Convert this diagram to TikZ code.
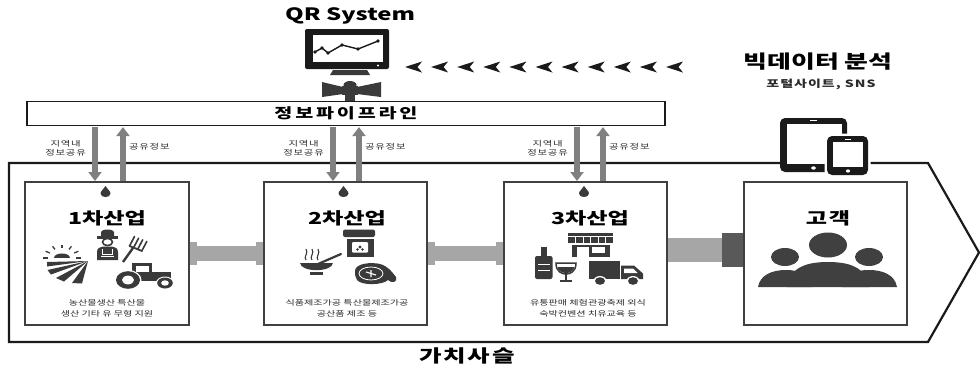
\documentclass[tikz,border=0pt]{standalone}
\usepackage{fontspec}
\usetikzlibrary{arrows.meta,calc}
\newfontfamily\kr[FakeStretch=1.4]{Noto Sans CJK KR}
\newfontfamily\krsm[FakeStretch=1.4,LetterSpace=10]{Noto Sans CJK KR}
\newfontfamily\krmd[FakeStretch=1.4,LetterSpace=20]{Noto Sans CJK KR}
\definecolor{inkc}{HTML}{1A1A1A}
\definecolor{iconc}{HTML}{3A3A3A}
\definecolor{boxc}{HTML}{404040}
\definecolor{flowc}{HTML}{808080}
\definecolor{barc}{HTML}{A6A6A6}
\definecolor{bardark}{HTML}{595959}
\definecolor{txtc}{HTML}{2B2B2B}

\begin{document}
\begin{tikzpicture}[x=1bp,y=-1bp,
  stagebox/.style={draw=boxc, line width=2bp, fill=white, minimum width=163bp,
    minimum height=143bp, inner sep=0pt},
  pipebox/.style={draw=inkc, line width=1.6bp, fill=white, minimum width=638bp,
    minimum height=24bp, inner sep=0pt,
    font=\krmd\bfseries\fontsize{14bp}{16bp}\selectfont},
  heading/.style={font=\kr\bfseries\fontsize{16.5bp}{18bp}\selectfont, text=black, inner sep=0pt},
  desc/.style={font=\kr\fontsize{7.2bp}{10.5bp}\selectfont, align=center, text=txtc, inner sep=0pt},
  flowlabel/.style={font=\krsm\fontsize{7.4bp}{9.5bp}\selectfont, align=center, text=txtc, inner sep=0pt},
  vflow/.style={draw=flowc, line width=6bp, -{Triangle[width=13bp,length=9bp]}},
  linkbar/.style={draw=barc, line width=15bp},
  leftmark/.pic={\fill[inkc] (0,0) -- (17,-5.5) -- (12.5,0) -- (17,5.5) -- cycle;},
  droplet/.pic={\fill[iconc] (0,-6) .. controls (1.5,-3) and (5,-1) .. (5,1.5)
      .. controls (5,4) and (2.5,5) .. (0,5) .. controls (-2.5,5) and (-5,4) .. (-5,1.5)
      .. controls (-5,-1) and (-1.5,-3) .. cycle;}
]
\useasboundingbox (0,0) rectangle (980,372);

% value chain frame
\draw[inkc, line width=2.2bp, line join=miter] (9,163) -- (928,163) -- (979,252.5) -- (928,342) -- (9,342) -- cycle;

% ---------------- QR system monitor ----------------
\node[font=\kr\bfseries\fontsize{17bp}{19bp}\selectfont, inner sep=0pt] (qr) at (350,16) {QR System};
\fill[inkc, rounded corners=2bp] (305,29) rectangle (389,69);
\fill[white] (313,35) rectangle (383,62);
\fill[white] (378,65.5) circle[radius=1.2];
\draw[inkc, line width=1.4bp, line join=round] (315,52) -- (322,48) -- (328,53) -- (342,45) -- (358,49) -- (378,41);
\foreach \p in {(315,52),(322,48),(328,53),(342,45),(358,49),(378,41)}
  \fill[inkc] \p circle[radius=1.8];
\fill[iconc] (333,70) -- (367,70) -- (370,75) -- (330,75) -- cycle;
\fill[iconc] (322,82) -- (343,87) -- (343,94) -- (322,97) -- cycle;
\fill[iconc] (381,82) -- (357,87) -- (357,94) -- (381,97) -- cycle;
\fill[iconc] (342,86) rectangle (358,95);
\fill[iconc] (350,85) ellipse[x radius=6.5, y radius=4];
\fill[iconc] (345,95) rectangle (355,102);

% pipeline
\node[pipebox] (pipe) at (346,113.5) {정보파이프라인};

% data stream from big data
\foreach \i in {0,...,10}
  \pic at ({405+26.1*\i},67) {leftmark};
\node[font=\kr\bfseries\fontsize{18.5bp}{20bp}\selectfont, inner sep=0pt] (bigdata) at (818,62) {빅데이터 분석};
\node[font=\krsm\bfseries\fontsize{10bp}{12bp}\selectfont, text=txtc, inner sep=0pt] (portal) at (821,84) {포털사이트, SNS};

% ---------------- stages ----------------
\node[stagebox] (b1) at (107,253.5) {};
\node[stagebox] (b2) at (345,253.5) {};
\node[stagebox] (b3) at (585.5,253.5) {};
\node[stagebox] (b4) at (825,253.5) {};

% links between stages
\draw[linkbar] (b1.east) -- (b2.west);
\draw[linkbar] (b2.east) -- (b3.west);
\fill[barc] (b1.east) ++(0,-11.5) rectangle ++(7,23);
\fill[barc] (b2.west) ++(-7,-11.5) rectangle ++(7,23);
\fill[barc] (b2.east) ++(0,-11.5) rectangle ++(7,23);
\fill[barc] (b3.west) ++(-7,-11.5) rectangle ++(7,23);
\coordinate (k1) at ($(b4.west)+(-21,-3.5)$);
\draw[barc, line width=24bp] ($(b3.east)+(0,-3.5)$) -- (k1);
\fill[bardark] (k1) ++(0,-17) rectangle ($(b4.west)+(0,13.5)$);

% exchange arrows with the pipeline
\coordinate (d1) at ($(b1.north)+(-12,0)$);
\coordinate (u1) at ($(b1.north)+(16,0)$);
\coordinate (d2) at ($(b2.north)+(-12,0)$);
\coordinate (u2) at ($(b2.north)+(14,0)$);
\coordinate (d3) at ($(b3.north)+(-8.5,0)$);
\coordinate (u3) at ($(b3.north)+(17.5,0)$);
\foreach \d/\u in {d1/u1,d2/u2,d3/u3}{
  \draw[vflow, shorten <=0.8bp] (\d |- pipe.south) -- (\d);
  \draw[vflow, shorten >=0.8bp] (\u) -- (\u |- pipe.south);
  \node[flowlabel, anchor=east] (\d l) at ($(\d |- 0,148)+(-9,0)$) {지역내\\정보공유};
  \node[flowlabel, anchor=west] (\u l) at ($(\u |- 0,147)+(6,0)$) {공유정보};
}

% drops and titles
\foreach \b in {b1,b2,b3}
  \pic at ($(\b.north)+(-1.5,11)$) {droplet};
\node[heading] (t1) at (107,218) {1차산업};
\node[heading] (t2) at (347,218) {2차산업};
\node[heading] (t3) at (590,218) {3차산업};
\node[heading, font=\krsm\bfseries\fontsize{16.5bp}{18bp}\selectfont] (t4) at (828,218) {고객};

% descriptions
\node[desc] (s1) at (107,308.5) {농산물생산 특산물\\생산 기타 유 무형 지원};
\node[desc] (s2) at (347,308.5) {식품제조가공 특산물제조가공\\공산품 제조 등};
\node[desc] (s3) at (588,308.5) {유통판매 체험관광축제 외식\\숙박컨벤션 치유교육 등};

% ---------------- primary industry icons ----------------
% farmer
\fill[iconc] (101,236) -- (101,232.5) .. controls (101,228.5) and (114,228.5) .. (114,232.5) -- (114,236) -- cycle;
\fill[iconc] (97,236) rectangle (118,238.5);
\draw[iconc, line width=1.6bp] (107.5,242) ellipse[x radius=5, y radius=3.6];
\fill[iconc] (97,260) -- (97,252) .. controls (97,248) and (100,247) .. (103,246.5) -- (112,246.5)
  .. controls (115,247) and (118,248) .. (118,252) -- (118,260) -- cycle;
\draw[white, line width=1bp] (102.5,249) -- (102.5,254) -- (112.5,254) -- (112.5,249);
\fill[white] (101,256) rectangle (114,257.2);
% pitchfork
\draw[iconc, line width=2.4bp] (123,262) -- (133,248);
\draw[iconc, line width=1.8bp, line cap=round] (129.5,246) -- (142,251);
\foreach \t in {0,1,2,3}
  \draw[iconc, line width=1.6bp, line cap=round] ({129.5+4.1*\t},{246+1.65*\t}) -- ++(5,-9.5);
% sun and field
\fill[iconc] (54,258) .. controls (54,252) and (70,252) .. (70,258) -- cycle;
\foreach \a in {0,30,60,90,120,150,180}
  \draw[iconc, line width=1.3bp] ({62+1.4*10*cos(\a)},{258-10*sin(\a)}) -- ({62+1.4*13.5*cos(\a)},{258-13.5*sin(\a)});
\fill[iconc] (88,261) -- (47,262) -- (47,266.5) -- cycle;
\fill[iconc] (88,261) -- (47.5,270) -- (51,274.5) -- cycle;
\fill[iconc] (88,261) -- (56,278) -- (64,281.5) -- cycle;
\fill[iconc] (88,261) -- (72,283) -- (82,283.5) -- cycle;
% tractor
\fill[iconc] (132,263) rectangle (152,276);
\fill[white] (136,265.5) rectangle (149,271.5);
\fill[iconc] (150,272) rectangle (171,280);
\fill[iconc] (130,274) rectangle (160,281);
\fill[white] (128,280) ellipse[x radius=13.5, y radius=10];
\fill[iconc] (128,280) ellipse[x radius=12, y radius=8.8];
\fill[white] (128,280) ellipse[x radius=6, y radius=4.4];
\fill[white] (165,283) ellipse[x radius=9, y radius=6.5];
\fill[iconc] (165,283) ellipse[x radius=7.8, y radius=5.5];
\fill[white] (165,283) ellipse[x radius=3.8, y radius=2.7];

% ---------------- secondary industry icons ----------------
% steam, bowl and spoon
\foreach \sx in {306,312,318}
  \draw[iconc, line width=1.1bp] (\sx,260) .. controls (\sx-3,257) and (\sx+3,253) .. (\sx,249);
\fill[iconc] (300,263) .. controls (301,272.5) and (332,272.5) .. (333,263) -- cycle;
\fill[iconc] (310,272) rectangle (323,275);
\draw[iconc, line width=2.2bp, line cap=round] (318,264) -- (341,254);
% jar
\fill[iconc, rounded corners=2bp] (343,229.5) rectangle (375,237);
\fill[iconc] (346.5,238.5) rectangle (373.5,256.5);
\fill[white, rounded corners=1bp] (352,242) rectangle (368,252.5);
\fill[iconc] (360,247) circle[radius=1.6];
\fill[iconc] (357.5,249.5) circle[radius=1.4];
\fill[iconc] (362.5,249.5) circle[radius=1.4];
% steak
\fill[iconc] (355,271) .. controls (355,263) and (372,262) .. (380,264) .. controls (388,266) and (392,272) .. (396,277)
  .. controls (398,282) and (392,284) .. (388,280) .. controls (383,285) and (362,286) .. (357,280)
  .. controls (355,277) and (355,274) .. (355,271) -- cycle;
\draw[white, line width=0.8bp] (371,273.5) ellipse[x radius=12, y radius=6.5];
\draw[white, line width=1.1bp] (366,272) -- (376,275) (371,270) -- (371,277);

% ---------------- tertiary industry icons ----------------
% store
\fill[iconc] (568,232.5) rectangle (613,236);
\fill[iconc] (568,237) rectangle (613,243);
\foreach \k in {1,...,5}
  \draw[white, line width=0.9bp] ({568+7.5*\k},237) -- ({568+7.5*\k},243);
\fill[iconc] (572,244.5) rectangle (610,257);
\fill[white] (577,247) rectangle (589,257);
\fill[white] (592,247) rectangle (605,253);
% bottle
\fill[iconc] (541,247) rectangle (546.5,256);
\fill[iconc, rounded corners=2bp] (535,256) rectangle (552.5,279);
\fill[white] (538,264) rectangle (549.5,265.2);
\fill[white] (538,270) rectangle (549.5,271.2);
% glass
\draw[iconc, line width=1.5bp] (556,263) -- (576,263) .. controls (576,272) and (570,274) .. (566,274)
  .. controls (562,274) and (556,272) .. (556,263) -- cycle;
\fill[iconc] (557.5,267) -- (574.5,267) .. controls (573.5,271.5) and (569.5,273) .. (566,273)
  .. controls (562.5,273) and (558.5,271.5) .. (557.5,267) -- cycle;
\draw[iconc, line width=1.5bp] (566,274) -- (566,280);
\fill[iconc] (560,279.5) rectangle (572,281.5);
% truck
\fill[iconc] (589,260.5) rectangle (619.5,279);
\fill[iconc] (621,265.5) -- (634,265.5) -- (643,273.5) -- (643,279) -- (621,279) -- cycle;
\fill[white] (624,268.5) -- (633,268.5) -- (637.5,273) -- (624,273) -- cycle;
\foreach \wx in {600,633}{
  \fill[white] (\wx,281) ellipse[x radius=6.5, y radius=5];
  \fill[iconc] (\wx,281) ellipse[x radius=5, y radius=3.8];
}

% ---------------- customers ----------------
\fill[boxc] (758,287) .. controls (760,275) and (772,270) .. (786,270) .. controls (800,270) and (810,275) .. (812,287) -- cycle;
\fill[boxc] (842,287) .. controls (844,275) and (854,270) .. (869,270) .. controls (883,270) and (895,275) .. (897,287) -- cycle;
\fill[boxc] (787,287) .. controls (790,268) and (805,262) .. (828,262) .. controls (851,262) and (866,268) .. (869,287) -- cycle;
\fill[boxc] (828,245) ellipse[x radius=19, y radius=12.5];
\fill[boxc] (785,257) ellipse[x radius=14, y radius=9];
\fill[boxc] (869,257) ellipse[x radius=14, y radius=9];

% devices
\fill[inkc, rounded corners=5bp] (780,118) rectangle (847,172);
\fill[white] (787,123.5) rectangle (842,164);
\fill[white] (813.5,168) ellipse[x radius=2.3, y radius=1.7];
\fill[white] (810,120) rectangle (817,121.4);
\fill[white, rounded corners=6bp] (824.5,133.5) rectangle (870.5,177.5);
\fill[inkc, rounded corners=5bp] (827,136) rectangle (868,175);
\fill[white] (833,142) rectangle (863,167);
\fill[white] (848,171) ellipse[x radius=2.1, y radius=1.6];
\fill[white] (845,138.6) rectangle (851,139.9);

% chain label
\node[font=\krsm\bfseries\fontsize{17.5bp}{20bp}\selectfont, inner sep=0pt] (chain) at (467,356) {가치사슬};
\end{tikzpicture}
\end{document}
